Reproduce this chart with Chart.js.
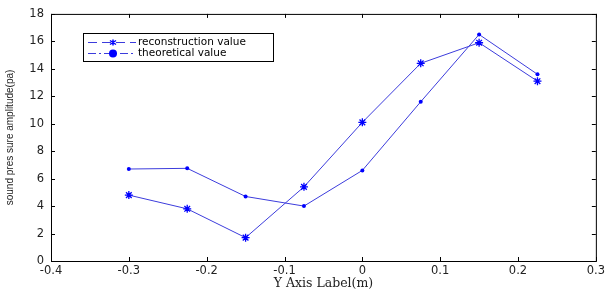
<!DOCTYPE html>
<html>
<head>
<meta charset="utf-8">
<script src="https://cdn.jsdelivr.net/npm/chart.js@4"></script>
<style>
  html, body { margin: 0; padding: 0; background: #fff; }
  #wrap { width: 608px; height: 293px; }
</style>
</head>
<body>
<div id="wrap"><canvas id="chart"></canvas></div>
<script>
// positions along the axis (m)
const xValues = [-0.3, -0.225, -0.15, -0.075, 0, 0.075, 0.15, 0.225];
// reconstruction (star markers)
const reconValues = [4.8, 3.8, 1.7, 5.4, 10.1, 14.4, 15.9, 13.1];
// theoretical (dot markers)
const theoryValues = [6.7, 6.75, 4.7, 4.0, 6.6, 11.6, 16.5, 13.6];

const xTicks = [-0.4, -0.3, -0.2, -0.1, 0, 0.1, 0.2, 0.3];
const yTicks = [0, 2, 4, 6, 8, 10, 12, 14, 16, 18];

const lineColor = '#3c3cdc';
const markColor = '#0000ff';

const toPoints = ys => xValues.map((x, i) => ({ x, y: ys[i] }));

// frame + inward ticks, matlab style
const framePlugin = {
  id: 'frame',
  afterDraw(chart) {
    const { ctx, chartArea: a, scales } = chart;
    ctx.save();
    ctx.strokeStyle = '#000';
    ctx.lineWidth = 1;
    ctx.strokeRect(a.left + 0.5, a.top + 0.5, a.right - a.left, a.bottom - a.top);
    ctx.beginPath();
    xTicks.forEach(v => {
      const px = Math.round(scales.x.getPixelForValue(v)) + 0.5;
      ctx.moveTo(px, a.bottom); ctx.lineTo(px, a.bottom - 4);
      ctx.moveTo(px, a.top); ctx.lineTo(px, a.top + 4);
    });
    yTicks.forEach(v => {
      const py = Math.round(scales.y.getPixelForValue(v)) + 0.5;
      ctx.moveTo(a.left, py); ctx.lineTo(a.left + 4, py);
      ctx.moveTo(a.right, py); ctx.lineTo(a.right - 4, py);
    });
    ctx.stroke();
    ctx.restore();
  }
};

// legend box inside the plot, top-left
const legendPlugin = {
  id: 'boxLegend',
  afterDraw(chart) {
    const { ctx } = chart;
    const bx = 83, by = 33, bw = 190, bh = 28;
    ctx.save();
    ctx.fillStyle = '#fff';
    ctx.fillRect(bx, by, bw, bh);
    ctx.strokeStyle = '#000';
    ctx.lineWidth = 1;
    ctx.strokeRect(bx + 0.5, by + 0.5, bw, bh);
    ctx.font = '10.5px "DejaVu Sans", sans-serif';
    ctx.textBaseline = 'middle';
    const rows = [
      { y: by + 9.5, dash: [9, 5], ds: chart.data.datasets[0] },
      { y: by + 20.5, dash: [8, 3, 2, 3], ds: chart.data.datasets[1] }
    ];
    rows.forEach(r => {
      ctx.strokeStyle = lineColor;
      ctx.setLineDash(r.dash);
      ctx.beginPath();
      ctx.moveTo(88, r.y); ctx.lineTo(136, r.y);
      ctx.stroke();
      ctx.setLineDash([]);
      if (r.ds.pointStyle === 'star') {
        ctx.strokeStyle = markColor;
        ctx.lineWidth = 1.5;
        ctx.beginPath();
        ctx.moveTo(110, r.y - 2); ctx.lineTo(116, r.y + 2);
        ctx.moveTo(110, r.y + 2); ctx.lineTo(116, r.y - 2);
        ctx.moveTo(113, r.y - 3); ctx.lineTo(113, r.y + 3);
        ctx.stroke();
        ctx.lineWidth = 1;
      } else {
        ctx.fillStyle = markColor;
        ctx.beginPath();
        ctx.arc(113, r.y, 4, 0, Math.PI * 2);
        ctx.fill();
      }
      ctx.fillStyle = '#000';
      ctx.fillText(r.ds.label, 138, r.y);
    });
    ctx.restore();
  }
};

new Chart(document.getElementById('chart'), {
  type: 'line',
  data: {
    datasets: [
      {
        label: 'reconstruction value',
        data: toPoints(reconValues),
        borderColor: lineColor,
        borderWidth: 1,
        pointStyle: 'star',
        pointRadius: 4,
        pointBorderColor: markColor,
        pointBorderWidth: 1.3,
        pointBackgroundColor: markColor,
        tension: 0
      },
      {
        label: 'theoretical value',
        data: toPoints(theoryValues),
        borderColor: lineColor,
        borderWidth: 1,
        pointStyle: 'circle',
        pointRadius: 2,
        pointBorderWidth: 0,
        pointBackgroundColor: markColor,
        tension: 0
      }
    ]
  },
  options: {
    responsive: true,
    maintainAspectRatio: false,
    animation: false,
    layout: { padding: { top: 11, right: 10, left: 0, bottom: 0 } },
    plugins: {
      legend: { display: false },
      tooltip: { enabled: false }
    },
    scales: {
      x: {
        type: 'linear',
        min: -0.4,
        max: 0.3,
        afterBuildTicks: s => { s.ticks = xTicks.map(v => ({ value: v })); },
        afterFit: s => { s.height = 32; },
        grid: { display: false, drawTicks: false },
        border: { display: false },
        ticks: {
          padding: 3,
          color: '#222',
          font: { family: '"DejaVu Sans", sans-serif', size: 11.5 },
          callback: v => String(Math.round(v * 10) / 10),
          maxRotation: 0
        },
        title: {
          display: true,
          text: 'Y Axis Label(m)',
          color: '#222',
          font: { family: '"DejaVu Serif", serif', size: 12.5 },
          padding: { top: 0, bottom: 2 }
        }
      },
      y: {
        min: 0,
        max: 18,
        afterBuildTicks: s => { s.ticks = yTicks.map(v => ({ value: v })); },
        afterFit: s => { s.width = 51; },
        grid: { display: false, drawTicks: false },
        border: { display: false },
        ticks: {
          padding: 7,
          color: '#222',
          font: { family: '"DejaVu Sans", sans-serif', size: 11.5 }
        },
        title: {
          display: true,
          text: 'sound pres sure amplitude(pa)',
          color: '#222',
          font: { family: '"Liberation Sans Narrow", "Liberation Sans", sans-serif', size: 10 },
          padding: { top: 4, bottom: 0 }
        }
      }
    }
  },
  plugins: [framePlugin, legendPlugin]
});
</script>
</body>
</html>
